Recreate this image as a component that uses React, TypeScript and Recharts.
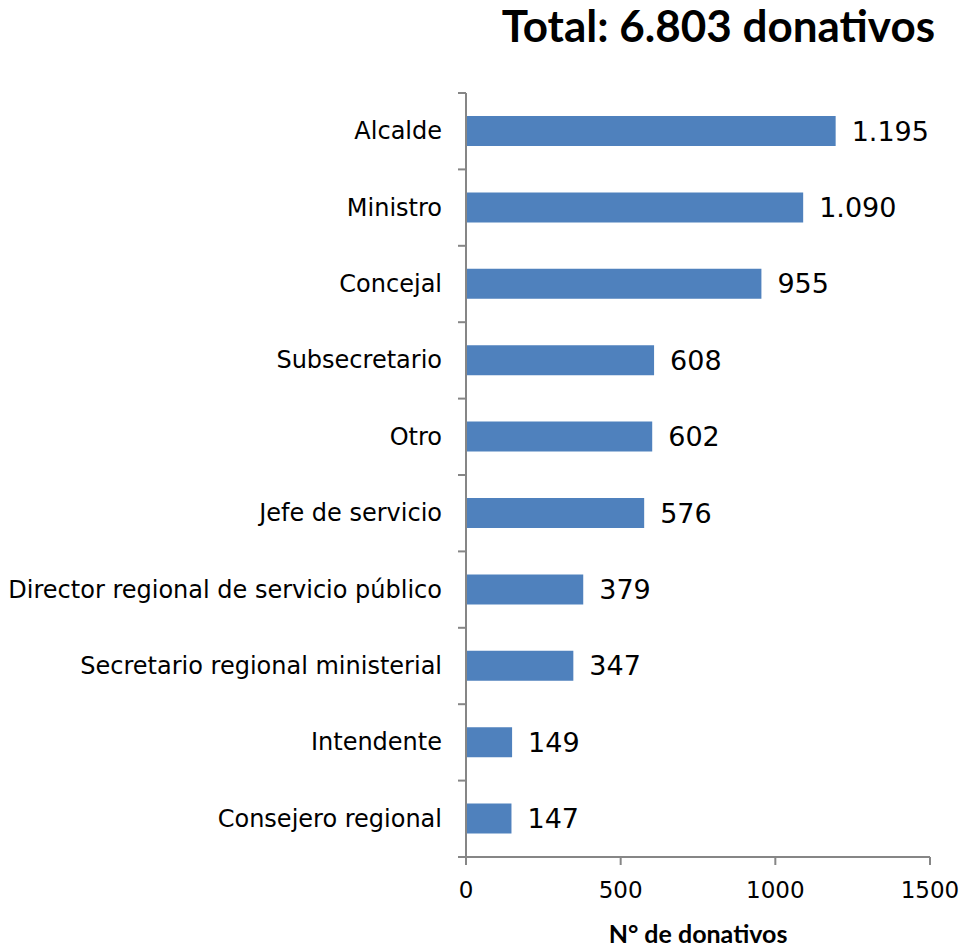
import React from "react";
import { BarChart, Bar, XAxis, YAxis, LabelList } from "recharts";

const categories = [
  "Alcalde",
  "Ministro",
  "Concejal",
  "Subsecretario",
  "Otro",
  "Jefe de servicio",
  "Director regional de servicio público",
  "Secretario regional ministerial",
  "Intendente",
  "Consejero regional",
];
const donativos = [1195, 1090, 955, 608, 602, 576, 379, 347, 149, 147];
const xTicks = [0, 500, 1000, 1500];
const title = "Total: 6.803 donativos";
const xLabel = "N° de donativos";

const data = categories.map((c, i) => ({ name: c, value: donativos[i] }));

const fmt = (v: number) => v.toLocaleString("de-DE");
const FONT = "'DejaVu Sans', Verdana, sans-serif";

const CHART_W = 963;
const CHART_H = 947;
const MARGIN = { top: 93, right: 33, bottom: 4, left: 0 };
const X_AXIS_H = 86;
const Y_AXIS_W = 466;
const TICK_SIZE = 6;
const TICK_MARGIN = 18;
const BAND = (CHART_H - MARGIN.top - MARGIN.bottom - X_AXIS_H) / categories.length;
const AXIS_COLOR = "#868686";

const CategoryTick = (props: any) => {
  const { x, y, payload, index } = props;
  const axisX = x + TICK_SIZE + TICK_MARGIN;
  const top = y - BAND / 2;
  const bottom = y + BAND / 2;
  const isLast = index === categories.length - 1;
  return (
    <g>
      <line x1={axisX - 8} x2={axisX} y1={top} y2={top} stroke={AXIS_COLOR} strokeWidth={2} />
      {isLast && (
        <line x1={axisX - 8} x2={axisX} y1={bottom} y2={bottom} stroke={AXIS_COLOR} strokeWidth={2} />
      )}
      <text
        x={x}
        y={y}
        textAnchor="end"
        dominantBaseline="central"
        fill="#000"
        fontSize={24}
        fontFamily={FONT}
      >
        {payload.value}
      </text>
    </g>
  );
};

export default function App() {
  return (
    <div style={{ position: "absolute", left: 0, top: 0, width: CHART_W, height: CHART_H, background: "#fff" }}>
      <div
        style={{
          position: "absolute",
          right: 28,
          top: -1,
          fontFamily: "Lato, 'Open Sans', sans-serif",
          fontWeight: 700,
          fontSize: 44,
          color: "#000",
          whiteSpace: "nowrap",
        }}
      >
        {title}
      </div>
      <BarChart
        width={CHART_W}
        height={CHART_H}
        data={data}
        layout="vertical"
        margin={MARGIN}
        barCategoryGap={23}
      >
        <XAxis
          type="number"
          domain={[0, 1500]}
          ticks={xTicks}
          axisLine={{ stroke: AXIS_COLOR, strokeWidth: 2 }}
          tickLine={{ stroke: AXIS_COLOR, strokeWidth: 2 }}
          tickSize={8}
          tickMargin={17}
          height={X_AXIS_H}
          tick={{ fill: "#000", fontSize: 23, fontFamily: FONT }}
          label={{
            value: xLabel,
            position: "insideBottom",
            offset: 0,
            fill: "#000",
            fontSize: 25,
            fontWeight: 700,
            fontFamily: "Lato, 'Open Sans', sans-serif",
          }}
        />
        <YAxis
          type="category"
          dataKey="name"
          width={Y_AXIS_W}
          axisLine={{ stroke: AXIS_COLOR, strokeWidth: 2 }}
          tickLine={false}
          tickSize={TICK_SIZE}
          tickMargin={TICK_MARGIN}
          interval={0}
          tick={<CategoryTick />}
        />
        <Bar dataKey="value" fill="#4F81BD" isAnimationActive={false}>
          <LabelList
            dataKey="value"
            position="right"
            offset={16}
            formatter={(v: number) => fmt(v)}
            style={{ fill: "#000", fontSize: 27, fontFamily: FONT }}
          />
        </Bar>
      </BarChart>
    </div>
  );
}
